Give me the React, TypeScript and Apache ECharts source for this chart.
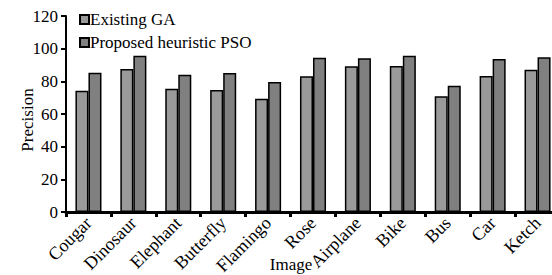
import React, { useEffect, useRef } from "react";
import * as echarts from "echarts";

const categories = ["Cougar", "Dinosaur", "Elephant", "Butterfly", "Flamingo", "Rose", "Airplane", "Bike", "Bus", "Car", "Ketch"];
const existingGA = [74.3, 87.6, 75.5, 74.7, 69.4, 83.1, 89.2, 89.4, 70.8, 83.3, 87.1];
const proposedPSO = [85.3, 95.7, 84.1, 85.1, 79.6, 94.5, 94.1, 95.7, 77.3, 93.7, 94.7];
const yTicks = { min: 0, max: 120, interval: 20 };

const font = "'Liberation Serif', 'Times New Roman', serif";

export default function App() {
  const ref = useRef<HTMLDivElement>(null);
  useEffect(() => {
    const chart = echarts.init(ref.current!, null, { renderer: "svg" });
    chart.setOption({
      animation: false,
      textStyle: { fontFamily: font },
      grid: { left: 66, top: 16, bottom: 63, right: 0, containLabel: false, outerBoundsMode: "none" },
      legend: {
        orient: "vertical",
        left: 74,
        top: 6,
        itemWidth: 9,
        itemHeight: 9,
        itemGap: 6,
        icon: "rect",
        textStyle: { fontFamily: font, fontSize: 17, color: "#000", padding: [0, 0, 0, -4] },
        data: ["Existing GA", "Proposed heuristic PSO"],
      },
      xAxis: {
        type: "category",
        data: categories,
        name: "Image",
        nameLocation: "middle",
        nameGap: 44,
        nameMoveOverlap: false,
        nameTextStyle: { fontFamily: font, fontSize: 17, color: "#000", padding: [0, 44, 0, 0] },
        axisLine: { lineStyle: { color: "#000", width: 3 } },
        axisTick: { show: true, length: 5, lineStyle: { color: "#000", width: 3 } },
        axisLabel: {
          rotate: 45,
          fontFamily: font,
          fontSize: 18,
          color: "#000",
          margin: 8,
          padding: [22, 0, 0, 0],
          interval: 0,
          hideOverlap: false,
        },
      },
      yAxis: {
        type: "value",
        min: yTicks.min,
        max: yTicks.max,
        interval: yTicks.interval,
        name: "Precision",
        nameLocation: "middle",
        nameGap: 30,
        nameMoveOverlap: false,
        nameTextStyle: { fontFamily: font, fontSize: 17, color: "#000", padding: [0, 12, 0, 0] },
        splitLine: { show: false },
        axisLine: { show: true, lineStyle: { color: "#000", width: 2 } },
        axisTick: { show: true, length: 5, lineStyle: { color: "#000", width: 2 } },
        axisLabel: { fontFamily: font, fontSize: 17, color: "#000", margin: 8 },
      },
      series: [
        {
          name: "Existing GA",
          type: "bar",
          data: existingGA,
          barGap: "0%",
          barCategoryGap: "42%",
          itemStyle: { color: "#9a9a9a", borderColor: "#000", borderWidth: 1.5 },
        },
        {
          name: "Proposed heuristic PSO",
          type: "bar",
          data: proposedPSO,
          barGap: "0%",
          barCategoryGap: "42%",
          itemStyle: { color: "#808080", borderColor: "#000", borderWidth: 1.5 },
        },
      ],
    });
    return () => chart.dispose();
  }, []);
  return (
    <div style={{ position: "fixed", left: 0, top: 0, width: 552, height: 275, overflow: "hidden", background: "#fff" }}>
      <div ref={ref} style={{ width: 560, height: 275 }} />
    </div>
  );
}
